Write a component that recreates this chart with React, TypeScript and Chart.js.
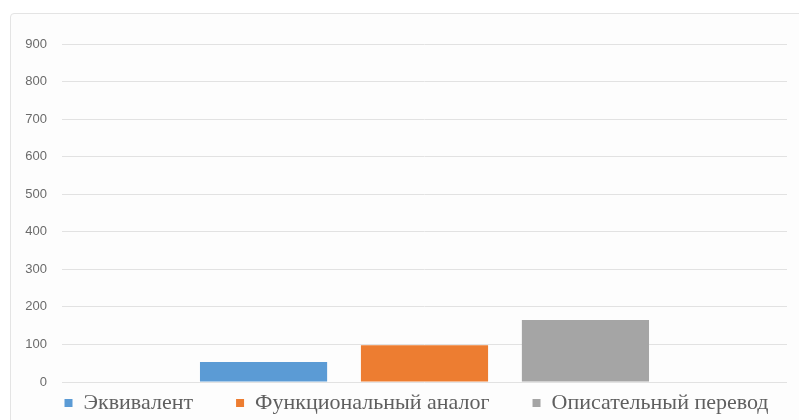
import React, { useEffect, useRef } from "react";
import { Chart, registerables } from "chart.js";

Chart.register(...registerables);

const categories = [""];
const seriesNames = ["Эквивалент", "Функциональный аналог", "Описательный перевод"];
const equivalentValues = [53];
const functionalValues = [98];
const descriptiveValues = [165];
const seriesColors = ["#5b9bd5", "#ed7d31", "#a5a5a5"];
const yTicks = [0, 100, 200, 300, 400, 500, 600, 700, 800, 900];

export default function App() {
  const ref = useRef<HTMLCanvasElement | null>(null);

  useEffect(() => {
    if (!ref.current) return;
    const chart = new Chart(ref.current, {
      type: "bar",
      data: {
        labels: categories,
        datasets: [
          { label: seriesNames[0], data: equivalentValues, backgroundColor: seriesColors[0] },
          { label: seriesNames[1], data: functionalValues, backgroundColor: seriesColors[1] },
          { label: seriesNames[2], data: descriptiveValues, backgroundColor: seriesColors[2] },
        ],
      },
      options: {
        animation: false,
        responsive: false,
        maintainAspectRatio: false,
        datasets: {
          bar: { categoryPercentage: 0.666, barPercentage: 0.79 },
        },
        layout: { padding: { left: 0, right: 0, top: 31, bottom: 0 } },
        scales: {
          x: { display: false },
          y: {
            min: yTicks[0],
            max: yTicks[yTicks.length - 1],
            afterFit: (scale: any) => {
              scale.width = 52;
            },
            afterBuildTicks: (scale: any) => {
              scale.ticks = yTicks.map((v) => ({ value: v }));
            },
            border: { display: false },
            grid: { color: "#e2e2e2", drawTicks: false, lineWidth: 1 },
            ticks: {
              padding: 15,
              color: "#6b6b6b",
              font: { family: "'Liberation Sans', Arial, sans-serif", size: 13 },
            },
          },
          y2: {
            type: "linear",
            position: "right",
            display: true,
            min: yTicks[0],
            max: yTicks[yTicks.length - 1],
            afterFit: (scale: any) => {
              scale.width = 36;
            },
            border: { display: false },
            grid: { display: false },
            ticks: { display: false },
          },
        },
        plugins: {
          tooltip: { enabled: false },
          legend: {
            position: "bottom",
            labels: {
              boxWidth: 8,
              boxHeight: 8,
              padding: 10,
              color: "#5f5f5f",
              font: { family: "'Liberation Serif', 'Times New Roman', serif", size: 22 },
              generateLabels: (c: any) => {
                const base = Chart.defaults.plugins.legend.labels.generateLabels(c);
                return base.map((item: any, i: number) => ({
                  ...item,
                  text: i < base.length - 1 ? item.text + "\u2002\u2002\u2002" : item.text,
                  lineWidth: 0,
                  strokeStyle: "transparent",
                }));
              },
            },
          },
        },
      },
    });
    return () => chart.destroy();
  }, []);

  return (
    <div
      style={{
        position: "fixed",
        left: 0,
        top: 0,
        width: 799,
        height: 420,
        overflow: "hidden",
        background: "#ffffff",
      }}
    >
      <div
        style={{
          position: "absolute",
          left: 10,
          top: 13,
          width: 813,
          height: 411,
          border: "1px solid #e4e4e4",
          borderRadius: 4,
          background: "#fdfdfd",
          boxSizing: "border-box",
        }}
      >
        <canvas
          ref={ref}
          width={813}
          height={411}
          style={{ position: "absolute", left: -1, top: -1, width: 813, height: 411 }}
        />
      </div>
    </div>
  );
}
